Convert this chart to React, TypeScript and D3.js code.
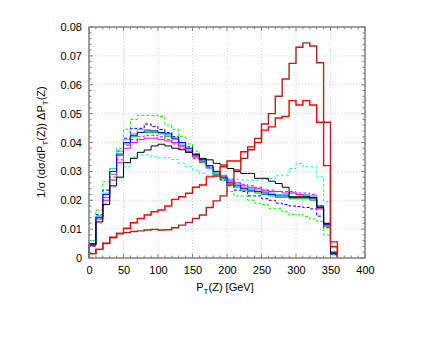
import React, { useEffect, useRef } from "react"
import * as d3 from "d3"

// lower edge of every 10 GeV bin
const binStarts = [0, 10, 20, 30, 40, 50, 60, 70, 80, 90, 100, 110, 120, 130, 140, 150, 160, 170,
  180, 190, 200, 210, 220, 230, 240, 250, 260, 270, 280, 290, 300, 310, 320, 330, 340, 350]
const binWidth = 10

const xTicks = [0, 50, 100, 150, 200, 250, 300, 350, 400]
const yTicks = [0, 0.01, 0.02, 0.03, 0.04, 0.05, 0.06, 0.07, 0.08]

const darkRed = [0.0015, 0.003, 0.005, 0.007, 0.0085, 0.0088, 0.0092, 0.0094, 0.0097, 0.0099, 0.0097, 0.0098,
  0.0105, 0.0114, 0.0123, 0.0137, 0.0149, 0.0175, 0.0198, 0.0215, 0.0253, 0.0305, 0.0345, 0.0375,
  0.0414, 0.0464, 0.050, 0.056, 0.062, 0.0674, 0.073, 0.0745, 0.0734, 0.0676, 0.047, 0.0056]
const red = [0.0015, 0.003, 0.0051, 0.0072, 0.0085, 0.0103, 0.0122, 0.0137, 0.0149, 0.016, 0.0166, 0.018,
  0.0203, 0.0212, 0.0224, 0.0245, 0.0253, 0.0281, 0.0284, 0.0316, 0.0336, 0.0336, 0.0368, 0.0385,
  0.040, 0.0443, 0.0454, 0.0485, 0.049, 0.0545, 0.053, 0.0545, 0.053, 0.047, 0.032, 0.0039]
const black = [0.0045, 0.0125, 0.0185, 0.025, 0.028, 0.033, 0.0345, 0.0366, 0.0374, 0.0388, 0.0394, 0.0388,
  0.038, 0.0375, 0.0366, 0.0357, 0.0345, 0.034, 0.0328, 0.0322, 0.031, 0.0299, 0.0293, 0.0293,
  0.0276, 0.0276, 0.0266, 0.0258, 0.0245, 0.0212, 0.0212, 0.0212, 0.021, 0.018, 0.012, 0.002]
const cyanDashed = [0.004, 0.012, 0.019, 0.0245, 0.0277, 0.0316, 0.035, 0.0357, 0.0357, 0.035, 0.0347, 0.0347,
  0.0341, 0.0328, 0.0316, 0.0304, 0.0293, 0.0287, 0.0283, 0.028, 0.0276, 0.0272, 0.027, 0.027,
  0.027, 0.0272, 0.0276, 0.0287, 0.0287, 0.031, 0.0328, 0.0316, 0.0316, 0.0281, 0.0195, 0.001]
const greenDashed = [0.006, 0.0166, 0.0264, 0.0268, 0.038, 0.0446, 0.048, 0.0494, 0.0494, 0.0494, 0.049, 0.046,
  0.0446, 0.042, 0.0395, 0.037, 0.034, 0.031, 0.029, 0.027, 0.023, 0.0215, 0.0215, 0.020,
  0.019, 0.0185, 0.0172, 0.0172, 0.016, 0.015, 0.015, 0.0143, 0.0135, 0.0126, 0.008, 0.0017]
const blueDashed = [0.0045, 0.015, 0.0235, 0.031, 0.037, 0.0415, 0.0449, 0.0449, 0.0464, 0.0455, 0.0445, 0.0435,
  0.042, 0.040, 0.0385, 0.036, 0.034, 0.0315, 0.029, 0.027, 0.025, 0.0235, 0.023, 0.0215,
  0.0215, 0.0205, 0.020, 0.019, 0.0185, 0.018, 0.0178, 0.0175, 0.017, 0.0145, 0.0105, 0.0012]
const blue = [0.005, 0.014, 0.022, 0.030, 0.036, 0.040, 0.0425, 0.0435, 0.044, 0.044, 0.0435, 0.043,
  0.0415, 0.040, 0.038, 0.036, 0.034, 0.032, 0.030, 0.028, 0.026, 0.025, 0.024, 0.0235,
  0.023, 0.0225, 0.022, 0.0215, 0.0215, 0.021, 0.021, 0.021, 0.0205, 0.0175, 0.0115, 0.0015]
const cyan = [0.0045, 0.0145, 0.0225, 0.031, 0.037, 0.041, 0.043, 0.0445, 0.0445, 0.044, 0.0435, 0.0425,
  0.041, 0.0395, 0.0375, 0.0355, 0.0335, 0.031, 0.0295, 0.028, 0.0265, 0.0255, 0.0245, 0.024,
  0.0235, 0.023, 0.0225, 0.022, 0.022, 0.0225, 0.022, 0.022, 0.0215, 0.0175, 0.012, 0.002]
const green = [0.005, 0.0145, 0.021, 0.029, 0.0355, 0.0395, 0.042, 0.0435, 0.0435, 0.0435, 0.043, 0.042,
  0.041, 0.039, 0.037, 0.035, 0.033, 0.031, 0.029, 0.0275, 0.026, 0.0245, 0.0235, 0.023,
  0.0225, 0.022, 0.0215, 0.021, 0.021, 0.0205, 0.0205, 0.0205, 0.020, 0.017, 0.011, 0.0015]
const magenta = [0.0045, 0.0135, 0.020, 0.027, 0.033, 0.038, 0.040, 0.041, 0.0415, 0.0415, 0.041, 0.0405,
  0.040, 0.0385, 0.037, 0.035, 0.0335, 0.0315, 0.030, 0.0285, 0.027, 0.026, 0.025, 0.0245,
  0.024, 0.0235, 0.023, 0.023, 0.0225, 0.0225, 0.022, 0.0215, 0.021, 0.017, 0.0115, 0.0015]
const magentaDashed = [0.004, 0.0135, 0.021, 0.028, 0.034, 0.039, 0.041, 0.042, 0.0425, 0.0425, 0.042, 0.041,
  0.0395, 0.038, 0.0365, 0.0345, 0.033, 0.031, 0.0295, 0.028, 0.027, 0.026, 0.0255, 0.025,
  0.0245, 0.0235, 0.0235, 0.023, 0.023, 0.023, 0.0225, 0.0225, 0.022, 0.018, 0.0115, 0.0015]

const series = [
  { values: greenDashed, color: "#00ff00", dash: "3,2", width: 1 },
  { values: cyanDashed, color: "#00ffff", dash: "3,2", width: 1 },
  { values: magentaDashed, color: "#ff00ff", dash: "3,2", width: 1 },
  { values: blueDashed, color: "#0000ff", dash: "3,2", width: 1 },
  { values: green, color: "#00c000", dash: null, width: 1 },
  { values: cyan, color: "#00e0e0", dash: null, width: 1 },
  { values: magenta, color: "#ff00ff", dash: null, width: 1 },
  { values: blue, color: "#0000ff", dash: null, width: 1 },
  { values: black, color: "#000000", dash: null, width: 1 },
  { values: red, color: "#ff0000", dash: null, width: 1.4 },
  { values: darkRed, color: "#b22222", dash: null, width: 1.4 },
]

const App = () => {
  const ref = useRef<SVGSVGElement>(null)

  useEffect(() => {
    const svg = d3.select(ref.current)
    svg.selectAll("*").remove()

    const left = 89, right = 365, top = 27, bottom = 258
    const x = d3.scaleLinear().domain([0, 400]).range([left, right])
    const y = d3.scaleLinear().domain([0, 0.08]).range([bottom, top])

    const font = "'Liberation Sans', Arial, sans-serif"

    // grid
    const grid = svg.append("g").attr("stroke", "#c8c8c8").attr("stroke-width", 0.8).attr("stroke-dasharray", "1,2")
    xTicks.slice(1, -1).forEach((t) => {
      grid.append("line").attr("x1", x(t)).attr("x2", x(t)).attr("y1", top).attr("y2", bottom)
    })
    yTicks.slice(1, -1).forEach((t) => {
      grid.append("line").attr("x1", left).attr("x2", right).attr("y1", y(t)).attr("y2", y(t))
    })

    // histograms
    const stepPath = (vals: number[]) => {
      const p = d3.path()
      p.moveTo(x(binStarts[0]), y(0))
      vals.forEach((v, i) => {
        p.lineTo(x(binStarts[i]), y(v))
        p.lineTo(x(binStarts[i] + binWidth), y(v))
      })
      p.lineTo(x(binStarts[binStarts.length - 1] + binWidth), y(0))
      return p.toString()
    }
    series.forEach((s) => {
      svg.append("path")
        .attr("d", stepPath(s.values))
        .attr("fill", "none")
        .attr("stroke", s.color)
        .attr("stroke-width", s.width)
        .attr("stroke-dasharray", s.dash)
    })

    // frame and inward ticks
    const tk = svg.append("g").attr("stroke", "#808080").attr("stroke-width", 1)
    const majX = new Set(xTicks.map((d) => Math.round(d)))
    x.ticks(40).forEach((t) => {
      const len = majX.has(Math.round(t)) ? 4 : 2.5
      tk.append("line").attr("x1", x(t)).attr("x2", x(t)).attr("y1", bottom).attr("y2", bottom - len)
      tk.append("line").attr("x1", x(t)).attr("x2", x(t)).attr("y1", top).attr("y2", top + len)
    })
    const majY = new Set(yTicks.map((d) => Math.round(d * 1000)))
    y.ticks(40).forEach((t) => {
      const len = majY.has(Math.round(t * 1000)) ? 4 : 2.5
      tk.append("line").attr("x1", left).attr("x2", left + len).attr("y1", y(t)).attr("y2", y(t))
      tk.append("line").attr("x1", right).attr("x2", right - len).attr("y1", y(t)).attr("y2", y(t))
    })
    svg.append("rect")
      .attr("x", left).attr("y", top)
      .attr("width", right - left).attr("height", bottom - top)
      .attr("fill", "none").attr("stroke", "#808080").attr("stroke-width", 1.5)

    // axes labels
    const yAxis = d3.axisLeft(y).tickValues(yTicks).tickSize(0).tickPadding(7)
      .tickFormat((d) => (d === 0 ? "0" : d3.format(".2f")(d as number)))
    const gy = svg.append("g").attr("transform", `translate(${left},0)`).call(yAxis)
    gy.select(".domain").remove()
    gy.selectAll("text").attr("font-family", font).attr("font-size", 11).attr("fill", "#000")

    const xAxis = d3.axisBottom(x).tickValues(xTicks).tickSize(0).tickPadding(8)
    const gx = svg.append("g").attr("transform", `translate(0,${bottom})`).call(xAxis)
    gx.select(".domain").remove()
    gx.selectAll("text").attr("font-family", font).attr("font-size", 11).attr("fill", "#000")

    const xt = svg.append("text")
      .attr("x", (left + right) / 2 - 2).attr("y", 291)
      .attr("text-anchor", "middle").attr("font-family", font).attr("font-size", 11)
    xt.append("tspan").text("P")
    xt.append("tspan").attr("font-size", 8).attr("dy", 3).text("T")
    xt.append("tspan").attr("dy", -3).text("(Z) [GeV]")

    const yt = svg.append("text")
      .attr("transform", "translate(45,142) rotate(-90)")
      .attr("text-anchor", "middle").attr("font-family", font).attr("font-size", 11)
    yt.append("tspan").text("1/σ (dσ/dP")
    yt.append("tspan").attr("font-size", 8).attr("dy", 3).text("T")
    yt.append("tspan").attr("dy", -3).text("(Z)) ΔP")
    yt.append("tspan").attr("font-size", 8).attr("dy", 3).text("T")
    yt.append("tspan").attr("dy", -3).text("(Z)")
  }, [])

  return (
    <svg ref={ref} width={436} height={337}
      style={{ position: "absolute", left: 0, top: 0, background: "#fff" }} />
  )
}

export default App
